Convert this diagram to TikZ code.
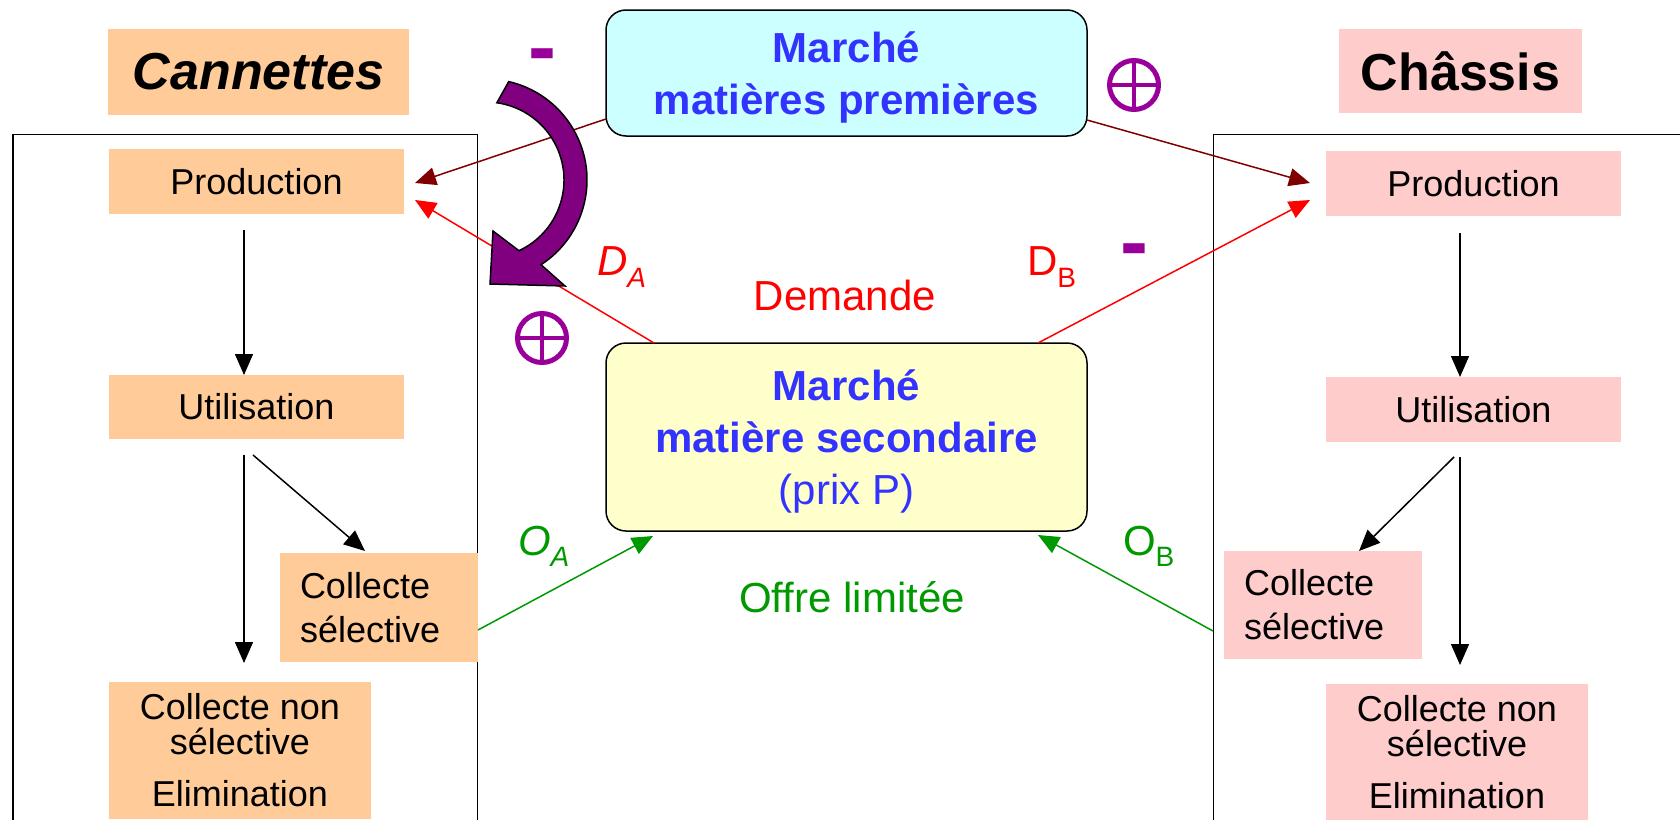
\documentclass[tikz,border=0pt]{standalone}
\usepackage{fontspec}
\setmainfont{Liberation Sans}
\usetikzlibrary{arrows.meta,calc}
\definecolor{orangebox}{HTML}{FFCC99}
\definecolor{pinkbox}{HTML}{FFCCCC}
\definecolor{cyanbox}{HTML}{CCFFFF}
\definecolor{yellowbox}{HTML}{FFFFCC}
\definecolor{bluetext}{HTML}{3333FF}
\definecolor{purplesym}{HTML}{990099}
\definecolor{purplearrow}{HTML}{800080}
\definecolor{darkred}{HTML}{800000}
\definecolor{redline}{HTML}{FF0000}
\definecolor{greenline}{HTML}{009900}
\begin{document}
\begin{tikzpicture}[x=1pt,y=-1pt,
  every node/.style={inner sep=0pt, outer sep=0pt},
  titlebox/.style={font=\fontsize{52}{60}\selectfont\bfseries, minimum height=86pt},
  stagebox/.style={font=\fontsize{36}{41}\selectfont, minimum width=295pt, minimum height=65pt},
  selbox/.style={font=\fontsize{36}{44}\selectfont, text width=158pt, inner xsep=20pt, align=left, minimum height=109pt},
  elimbox/.style={font=\fontsize{36}{35}\selectfont, minimum width=262pt, minimum height=137pt, align=center},
  market/.style={draw=black, line width=1.5pt, rounded corners=20pt, minimum width=481pt, text=bluetext, align=center, font=\fontsize{42}{52}\selectfont, text depth=0pt},
  flow/.style={line width=1.5pt, -{Triangle[length=21pt,width=18pt]}},
  framebox/.style={line width=1.5pt},
  lab/.style={font=\fontsize{42}{50}\selectfont, anchor=base},
  sublab/.style={font=\fontsize{42}{50}\selectfont, anchor=base west},
  minussym/.style={font=\fontsize{84}{84}\selectfont\bfseries, text=purplesym, anchor=base},
  plussym/.style={circle, draw=purplesym, line width=5pt, minimum size=49pt},
  plusbar/.style={draw=purplesym, line width=4pt},
  bigarrow/.style={fill=purplearrow, draw=black, line width=1.5pt, line join=miter}
]
\useasboundingbox (0,0) rectangle (1680,819);
\fill[white] (0,0) rectangle (1680,819);

% frames
\draw[framebox] (13,830) -- (13,134.5) -- (477.5,134.5) -- (477.5,830);
\draw[framebox] (1213.5,830) -- (1213.5,134.5) -- (1690,134.5);

% titles
\node[titlebox, fill=orangebox, minimum width=301pt] (cannA) at (258.5,72) {\itshape Cannettes};
\node[titlebox, fill=pinkbox, minimum width=243pt, minimum height=84pt] (chassis) at (1460.5,71) {Châssis};

% left column
\node[stagebox, fill=orangebox] (prodA) at (256.5,181.5) {Production};
\node[stagebox, fill=orangebox, minimum height=64pt] (utilA) at (256.5,407) {Utilisation};
\node[selbox, fill=orangebox] (collA) at (379,607.5) {Collecte\\sélective};
\node[elimbox, fill=orangebox] (nonA) at (240,750.5) {Collecte non\\sélective\\[17pt]Elimination};

% right column
\node[stagebox, fill=pinkbox] (prodB) at (1473.5,183.5) {Production};
\node[stagebox, fill=pinkbox] (utilB) at (1473.5,409.5) {Utilisation};
\node[selbox, fill=pinkbox, minimum height=108pt] (collB) at (1323,605) {Collecte\\sélective};
\node[elimbox, fill=pinkbox] (nonB) at (1457,752.5) {Collecte non\\sélective\\[17pt]Elimination};

% markets
\node[market, fill=cyanbox, minimum height=126pt] (topM) at (846.5,73) {\textbf{Marché}\\\textbf{matières premières}};
\node[market, fill=yellowbox, minimum height=188pt] (botM) at (846.5,437) {\textbf{Marché}\\\textbf{matière secondaire}\\(prix P)};

% labels
\node[lab, text=redline] (dem) at (845,310) {Demande};
\node[lab, text=greenline] (offre) at (852,612) {Offre limitée};
\node[sublab, text=redline] (da) at (597,275) {\itshape D\raisebox{-12pt}{\fontsize{28}{28}\selectfont A}};
\node[sublab, text=redline] (db) at (1027,275) {D\raisebox{-12pt}{\fontsize{28}{28}\selectfont B}};
\node[sublab, text=greenline] (oa) at (518,555) {\itshape O\raisebox{-11pt}{\fontsize{28}{28}\selectfont A}};
\node[sublab, text=greenline] (ob) at (1123,555) {O\raisebox{-11pt}{\fontsize{28}{28}\selectfont B}};

% signs
\node[minussym] (minA) at (542.5,75) {-};
\node[minussym] (minB) at (1134,270) {-};
\node[plussym] (plusA) at (542,338) {};
\draw[plusbar] (plusA.north) -- (plusA.south) (plusA.west) -- (plusA.east);
\node[plussym] (plusB) at (1134,85) {};
\draw[plusbar] (plusB.north) -- (plusB.south) (plusB.west) -- (plusB.east);

% connectors
\draw[flow, darkred] ($(topM.west)+(0,46)$) -- ($(prodA.east)+(11,1.5)$);
\draw[flow, redline] ($(botM.north west)+(48,0)$) -- ($(prodA.east)+(11,18.5)$);
\draw[flow, darkred] ($(topM.east)+(0,47)$) -- ($(prodB.west)+(-16,-0.5)$);
\draw[flow, redline] ($(botM.north east)+(-49,0)$) -- ($(prodB.west)+(-16,16.5)$);
\draw[flow, greenline] ($(collA.east)+(0,22.5)$) -- ($(botM.south west)+(47,5)$);
\draw[flow, greenline] ($(collB.west)+(-11,26)$) -- ($(botM.south east)+(-49,4)$);

\draw[flow] ($(prodA.south)+(-12.5,16)$) -- ($(utilA.north)+(-12.5,0)$);
\draw[flow] ($(utilA.south)+(-12.5,16)$) -- ($(nonA.north)+(4,-19)$);
\draw[flow] ($(utilA.south)+(-3.5,16)$) -- ($(collA.north)+(-14,-2)$);
\draw[flow] ($(prodB.south)+(-13.5,17)$) -- ($(utilB.north)+(-13.5,0)$);
\draw[flow] ($(utilB.south)+(-13.5,15)$) -- ($(nonB.north)+(3,-19)$);
\draw[flow] ($(utilB.south)+(-19.5,15)$) -- ($(collB.north)+(36,0)$);

% big curved purple arrow
\draw[bigarrow] ($(486,180)+(-77:101)$) arc[start angle=-77, end angle=57, radius=101]
  -- (565,286) -- (490,284) -- (493,231)
  -- ($(486,180)+(65:78)$) arc[start angle=65, end angle=-82, radius=78] -- cycle;
\end{tikzpicture}
\end{document}
